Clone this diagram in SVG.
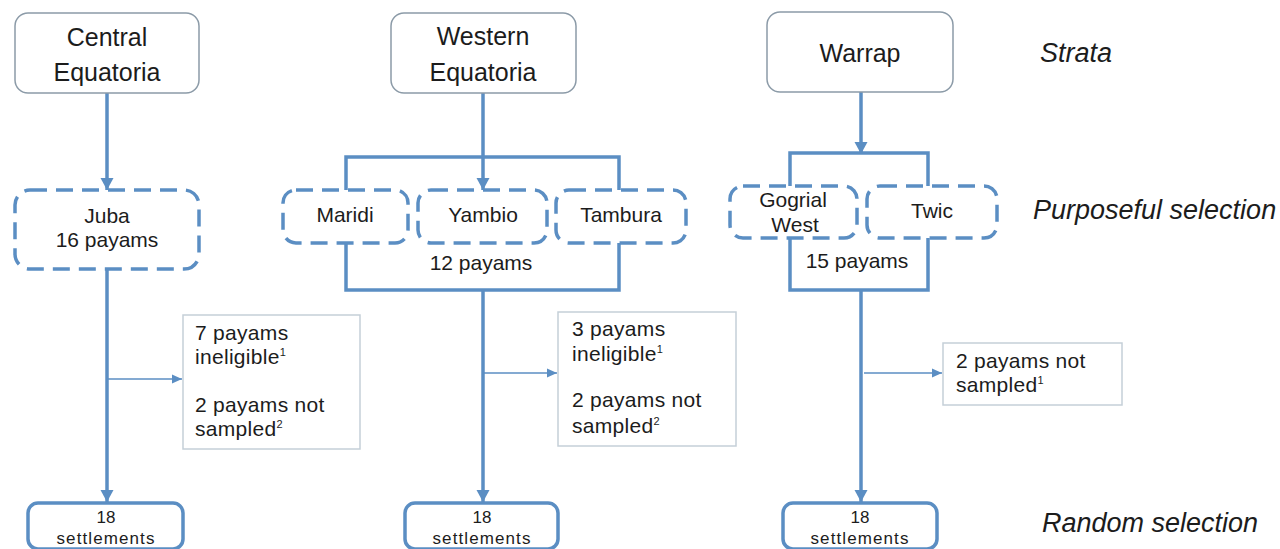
<svg xmlns="http://www.w3.org/2000/svg" width="1280" height="549" viewBox="0 0 1280 549">
<defs>
<style>
.t{font-family:"Liberation Sans",Arial,sans-serif;fill:#1c1c1c;text-anchor:middle}
.strata{fill:#fff;stroke:#8c9ba8;stroke-width:1.5}
.sel{fill:#fff;stroke:#5b8ec3;stroke-width:3.5;stroke-dasharray:17 9}
.settle{fill:#fff;stroke:#5b8ec3;stroke-width:3.5}
.note{fill:#fff;stroke:#c5cfd8;stroke-width:1.5}
.c{fill:none;stroke:#5b8ec3;stroke-width:3.5}
.s{fill:none;stroke:#5b8ec3;stroke-width:1.6}
.lbl{font-family:"Liberation Sans",Arial,sans-serif;font-style:italic;font-size:27px;fill:#1c1c1c}
.nt{font-family:"Liberation Sans",Arial,sans-serif;font-size:21px;fill:#1c1c1c;letter-spacing:0.3px}
.sup{font-size:11px}
</style>
<marker id="big" markerUnits="userSpaceOnUse" markerWidth="14" markerHeight="14" refX="12" refY="7" orient="auto">
<path d="M0,0.5 L12,7 L0,13.5 z" fill="#5b8ec3"/>
</marker>
<marker id="small" markerUnits="userSpaceOnUse" markerWidth="11" markerHeight="11" refX="10" refY="5.5" orient="auto">
<path d="M0,1 L10,5.5 L0,10 z" fill="#5b8ec3"/>
</marker>
</defs>
<rect width="1280" height="549" fill="#fff"/>

<g id="connectors">
<line class="c" x1="107" y1="93" x2="107" y2="190" marker-end="url(#big)"/>
<line class="c" x1="107" y1="269" x2="107" y2="502" marker-end="url(#big)"/>
<line class="s" x1="107" y1="379" x2="182" y2="379" marker-end="url(#small)"/>
<line class="c" x1="483" y1="93" x2="483" y2="190" marker-end="url(#big)"/>
<polyline class="c" points="346,190 346,157 619,157 619,190"/>
<polyline class="c" points="346,243 346,290 619,290 619,243"/>
<line class="c" x1="483" y1="290" x2="483" y2="502" marker-end="url(#big)"/>
<line class="s" x1="483" y1="373" x2="557" y2="373" marker-end="url(#small)"/>
<line class="c" x1="861" y1="92" x2="861" y2="154" marker-end="url(#big)"/>
<polyline class="c" points="790,186 790,153 928,153 928,186"/>
<polyline class="c" points="790,238 790,290 928,290 928,238"/>
<line class="c" x1="861" y1="290" x2="861" y2="502" marker-end="url(#big)"/>
<line class="s" x1="864" y1="373" x2="942" y2="373" marker-end="url(#small)"/>
</g>

<g id="central-equatoria">
<rect class="strata" x="15" y="13" width="184" height="80" rx="13"/>
<text class="t" x="107" y="46" font-size="25">Central</text>
<text class="t" x="107" y="81" font-size="25">Equatoria</text>
</g>
<g id="western-equatoria">
<rect class="strata" x="391" y="13" width="185" height="80" rx="13"/>
<text class="t" x="483" y="45" font-size="25">Western</text>
<text class="t" x="483" y="81" font-size="25">Equatoria</text>
</g>
<g id="warrap">
<rect class="strata" x="767" y="12" width="186" height="80" rx="13"/>
<text class="t" x="860" y="62" font-size="25">Warrap</text>
</g>

<g id="juba">
<rect class="sel" x="15" y="190" width="184" height="79" rx="15"/>
<text class="t" x="107" y="223" font-size="21">Juba</text>
<text class="t" x="107" y="247" font-size="21">16 payams</text>
</g>
<g id="maridi">
<rect class="sel" x="283" y="190" width="125" height="53" rx="13"/>
<text class="t" x="345" y="222" font-size="21">Maridi</text>
</g>
<g id="yambio">
<rect class="sel" x="418" y="190" width="129" height="53" rx="13"/>
<text class="t" x="483" y="222" font-size="21">Yambio</text>
</g>
<g id="tambura">
<rect class="sel" x="556" y="190" width="130" height="53" rx="13"/>
<text class="t" x="621" y="222" font-size="21">Tambura</text>
</g>
<g id="we-payams">
<text class="t" x="481" y="270" font-size="21">12 payams</text>
</g>
<g id="gogrial-west">
<rect class="sel" x="730" y="186" width="127" height="52" rx="13"/>
<text class="t" x="793" y="207" font-size="21">Gogrial</text>
<text class="t" x="795" y="232" font-size="21">West</text>
</g>
<g id="twic">
<rect class="sel" x="867" y="186" width="130" height="52" rx="13"/>
<text class="t" x="932" y="218" font-size="21">Twic</text>
</g>
<g id="warrap-payams">
<text class="t" x="857" y="268" font-size="21">15 payams</text>
</g>

<g id="note-central">
<rect class="note" x="183" y="315" width="177" height="134"/>
<text class="nt" x="195" y="340">7 payams</text>
<text class="nt" x="195" y="364">ineligible<tspan class="sup" dy="-8">1</tspan></text>
<text class="nt" x="195" y="412">2 payams not</text>
<text class="nt" x="195" y="436">sampled<tspan class="sup" dy="-8">2</tspan></text>
</g>
<g id="note-western">
<rect class="note" x="558" y="312" width="178" height="134"/>
<text class="nt" x="572" y="336">3 payams</text>
<text class="nt" x="572" y="361">ineligible<tspan class="sup" dy="-8">1</tspan></text>
<text class="nt" x="572" y="407">2 payams not</text>
<text class="nt" x="572" y="433">sampled<tspan class="sup" dy="-8">2</tspan></text>
</g>
<g id="note-warrap">
<rect class="note" x="943" y="343" width="179" height="62"/>
<text class="nt" x="956" y="368">2 payams not</text>
<text class="nt" x="956" y="392">sampled<tspan class="sup" dy="-8">1</tspan></text>
</g>

<g id="settlements-central">
<rect class="settle" x="28" y="503" width="155" height="46" rx="10"/>
<text class="t" x="106" y="523" font-size="17">18</text>
<text class="t" x="106" y="544" font-size="17" letter-spacing="1.1">settlements</text>
</g>
<g id="settlements-western">
<rect class="settle" x="405" y="503" width="153" height="46" rx="10"/>
<text class="t" x="482" y="523" font-size="17">18</text>
<text class="t" x="482" y="544" font-size="17" letter-spacing="1.1">settlements</text>
</g>
<g id="settlements-warrap">
<rect class="settle" x="783" y="503" width="154" height="46" rx="10"/>
<text class="t" x="860" y="523" font-size="17">18</text>
<text class="t" x="860" y="544" font-size="17" letter-spacing="1.1">settlements</text>
</g>

<g id="labels">
<text class="lbl" x="1040" y="62" font-size="28">Strata</text>
<text class="lbl" x="1033" y="219">Purposeful selection</text>
<text class="lbl" x="1042" y="532">Random selection</text>
</g>
</svg>
